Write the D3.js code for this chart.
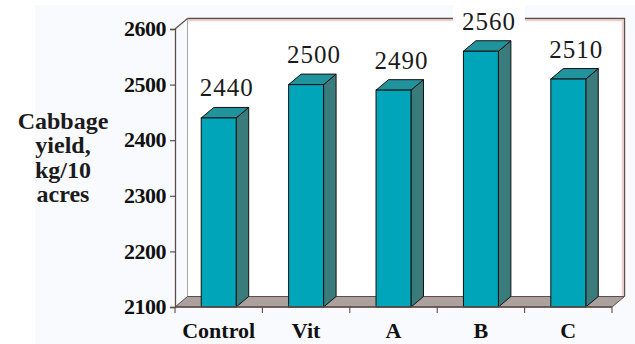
<!DOCTYPE html>
<html>
<head>
<meta charset="utf-8">
<script src="https://cdn.jsdelivr.net/npm/d3@7"></script>
<style>
  svg { display: block; }
</style>
</head>
<body style="margin:0">
<div id="root"></div>
<script>
// Cabbage yield by treatment
const categories = ["Control", "Vit", "A", "B", "C"];
const yieldValues = [2440, 2500, 2490, 2560, 2510];
const yTicks = [2100, 2200, 2300, 2400, 2500, 2600];
const yTitleLines = ["Cabbage", "yield,", "kg/10", "acres"];

const W = 635, H = 344;
const plotLeft = 175, plotRight = 612, plotTop = 29, plotBottom = 307;
const depth = { dx: 12.5, dy: -10.5 };
const FONT = "Times New Roman";
const edge = "#5e4e4b";

const svg = d3.select("#root").append("svg")
  .attr("width", W).attr("height", H);

const x = d3.scaleBand()
  .domain(categories)
  .range([plotLeft, plotRight])
  .paddingInner(0.6)
  .paddingOuter(0.3);

const y = d3.scaleLinear()
  .domain([d3.min(yTicks), d3.max(yTicks)])
  .range([plotBottom, plotTop]);

// page panel
svg.append("rect").attr("width", W).attr("height", H).attr("fill", "#ffffff");
svg.append("rect").attr("x", 35).attr("y", 5).attr("width", W - 35).attr("height", H - 5)
  .attr("fill", "#f9fafd");

// back wall
const wx0 = plotLeft + depth.dx, wx1 = plotRight + depth.dx;
const wy0 = plotTop + depth.dy, wy1 = plotBottom + depth.dy;
svg.append("rect")
  .attr("x", wx0).attr("y", wy0).attr("width", wx1 - wx0).attr("height", wy1 - wy0)
  .attr("fill", "#ffffff");
svg.append("line").attr("x1", wx0).attr("x2", wx0).attr("y1", wy0).attr("y2", wy1)
  .attr("stroke", "#a9a4a4").attr("stroke-width", 1);
svg.append("path")
  .attr("d", `M${wx0},${wy0 + 2}H${wx1 - 2}V${wy1}`)
  .attr("fill", "none").attr("stroke", "#f2cfc4").attr("stroke-width", 1.5);
svg.append("path")
  .attr("d", `M${wx0},${wy0}H${wx1}V${wy1}`)
  .attr("fill", "none").attr("stroke", edge).attr("stroke-width", 1.4);

// floor
svg.append("path")
  .attr("d", `M${plotLeft},${plotBottom}L${plotRight},${plotBottom}L${wx1},${wy1}L${wx0},${wy1}Z`)
  .attr("fill", "#aca19f").attr("stroke", edge).attr("stroke-width", 1);

// left side edge connecting axis to wall
svg.append("line")
  .attr("x1", plotLeft).attr("y1", plotTop).attr("x2", wx0).attr("y2", wy0)
  .attr("stroke", edge).attr("stroke-width", 1.2);

// bars
const bars = svg.append("g").selectAll("g")
  .data(categories.map((c, i) => ({ cat: c, value: yieldValues[i] })))
  .join("g");

bars.append("path") // side face
  .attr("d", d => {
    const x1 = x(d.cat) + x.bandwidth(), yt = y(d.value);
    return `M${x1},${plotBottom}L${x1},${yt}L${x1 + depth.dx},${yt + depth.dy}L${x1 + depth.dx},${plotBottom + depth.dy}Z`;
  })
  .attr("fill", "#3a7b7c").attr("stroke", "#111").attr("stroke-width", 1);

bars.append("path") // top face
  .attr("d", d => {
    const x0 = x(d.cat), x1 = x0 + x.bandwidth(), yt = y(d.value);
    return `M${x0},${yt}L${x1},${yt}L${x1 + depth.dx},${yt + depth.dy}L${x0 + depth.dx},${yt + depth.dy}Z`;
  })
  .attr("fill", "#21939c").attr("stroke", "#111").attr("stroke-width", 1);

bars.append("rect") // front face
  .attr("x", d => x(d.cat))
  .attr("y", d => y(d.value))
  .attr("width", x.bandwidth())
  .attr("height", d => plotBottom - y(d.value))
  .attr("fill", "#00a5b9").attr("stroke", "#111").attr("stroke-width", 1);

// value labels
const labels = bars.append("g")
  .attr("transform", d => `translate(${x(d.cat) + x.bandwidth() / 2 + 8},${y(d.value) + depth.dy - 11})`);
labels.append("rect")
  .attr("x", -36).attr("y", -30).attr("width", 72).attr("height", 34)
  .attr("fill", "#ffffff");
labels.append("text")
  .style("font-family", FONT)
  .attr("font-size", 25)
  .attr("text-anchor", "middle")
  .attr("letter-spacing", 1)
  .attr("fill", "#1b1b1b")
  .text(d => d.value);

// y axis
const yAxis = svg.append("g")
  .attr("transform", `translate(${plotLeft},0)`)
  .call(d3.axisLeft(y).tickValues(yTicks).tickSize(5).tickPadding(4).tickFormat(d3.format("d")));
yAxis.attr("font-family", null).attr("font-size", null);
yAxis.select(".domain").attr("stroke", edge).attr("stroke-width", 1.3);
yAxis.selectAll(".tick line").attr("stroke", edge).attr("stroke-width", 1.2);
yAxis.selectAll(".tick text")
  .style("font-family", FONT)
  .attr("font-size", 22).attr("font-weight", "bold")
  .attr("letter-spacing", -0.5).attr("fill", "#111").attr("dy", "0.3em");

// x axis
svg.append("line")
  .attr("x1", plotLeft).attr("x2", plotRight).attr("y1", plotBottom).attr("y2", plotBottom)
  .attr("stroke", edge).attr("stroke-width", 1.3);
const boundaries = [plotLeft].concat(categories.map(c => x(c) + x.bandwidth() / 2 + x.step() / 2));
svg.append("g").selectAll("line")
  .data(boundaries)
  .join("line")
  .attr("x1", d => d).attr("x2", d => d)
  .attr("y1", plotBottom).attr("y2", plotBottom + 6)
  .attr("stroke", edge).attr("stroke-width", 1.1);

const xAxis = svg.append("g")
  .attr("transform", `translate(0,${plotBottom})`)
  .call(d3.axisBottom(x).tickSize(0).tickPadding(0));
xAxis.attr("font-family", null).attr("font-size", null);
xAxis.select(".domain").remove();
xAxis.selectAll(".tick text")
  .style("font-family", FONT)
  .attr("font-size", 22).attr("font-weight", "bold")
  .attr("fill", "#111").attr("dy", null).attr("y", 31);

// y axis title
svg.append("text")
  .style("font-family", FONT)
  .attr("font-size", 24).attr("font-weight", "bold")
  .attr("text-anchor", "middle")
  .attr("fill", "#1b1b1b")
  .selectAll("tspan")
  .data(yTitleLines)
  .join("tspan")
  .attr("x", 63)
  .attr("y", (d, i) => 129 + i * 24.3)
  .text(d => d);
</script>
</body>
</html>
